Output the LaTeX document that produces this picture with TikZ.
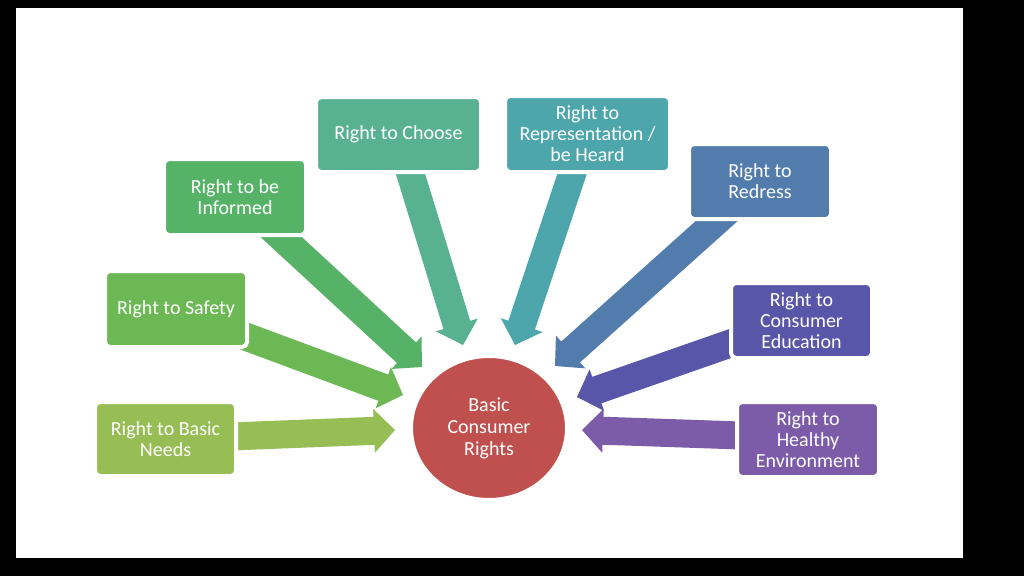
\documentclass[tikz,border=0pt]{standalone}
\usepackage{fontspec}
\setmainfont{Carlito}
\usetikzlibrary{calc,shapes.geometric}
\definecolor{cneeds}{RGB}{150,190,84}
\definecolor{csafety}{RGB}{108,184,84}
\definecolor{cinformed}{RGB}{86,178,103}
\definecolor{cchoose}{RGB}{88,178,146}
\definecolor{crep}{RGB}{76,166,172}
\definecolor{credress}{RGB}{82,124,172}
\definecolor{ceducation}{RGB}{88,86,168}
\definecolor{chealthy}{RGB}{124,92,168}
\definecolor{ccenter}{RGB}{192,80,77}
\tikzset{
  rbox/.style={rectangle, rounded corners=5pt, draw=white, line width=4pt,
    inner sep=0pt, text=white, align=center,
    font=\fontsize{20}{21}\selectfont},
  hub/.style={ellipse, draw=white, line width=4pt, inner sep=0pt,
    text=white, align=center, font=\fontsize{20}{22}\selectfont}
}
\newcommand\blockarrow[3]{%
  \coordinate (#1-b) at ($(#2)!21pt!(#1)$);
  \fill[#3] ($(#1)!14pt!90:(#2)$) -- ($(#1-b)!14pt!90:(#2)$)
    -- ($(#1-b)!22pt!90:(#2)$) -- (#2) -- ($(#1-b)!22pt!-90:(#2)$)
    -- ($(#1-b)!14pt!-90:(#2)$) -- ($(#1)!14pt!-90:(#2)$) -- cycle;
}
\begin{document}
\begin{tikzpicture}[x=1pt,y=-1pt]
\useasboundingbox (0,0) rectangle (1024,576);
\fill[black] (0,0) rectangle (1024,576);
\fill[white] (16,8) rectangle (963,558);

% arrow tails (inside boxes) and tips
\coordinate (t1) at (218,437);   \coordinate (e1) at (395,430);
\coordinate (t2) at (228,330);   \coordinate (e2) at (403,395);
\coordinate (t3) at (266,223);   \coordinate (e3) at (422,367);
\coordinate (t4) at (405,156);   \coordinate (e4) at (463,345);
\coordinate (t5) at (578,156);   \coordinate (e5) at (515,345);
\coordinate (t6) at (729,210);   \coordinate (e6) at (555,366);
\coordinate (t7) at (746,338);   \coordinate (e7) at (577,397);
\coordinate (t8) at (755,436);   \coordinate (e8) at (582,430);

\blockarrow{t1}{e1}{cneeds}
\blockarrow{t2}{e2}{csafety}
\blockarrow{t3}{e3}{cinformed}
\blockarrow{t4}{e4}{cchoose}
\blockarrow{t5}{e5}{crep}
\blockarrow{t6}{e6}{credress}
\blockarrow{t7}{e7}{ceducation}
\blockarrow{t8}{e8}{chealthy}

\node[rbox, fill=cneeds, minimum width=141pt, minimum height=74pt] (needs) at (165.5,439) {Right to Basic\\Needs};
\node[rbox, fill=csafety, minimum width=142pt, minimum height=76pt] (safety) at (176,309) {Right to Safety};
\node[rbox, fill=cinformed, minimum width=142pt, minimum height=76pt] (informed) at (235,197) {Right to be\\Informed};
\node[rbox, fill=cchoose, minimum width=165pt, minimum height=75pt] (choose) at (398.5,134.5) {Right to Choose};
\node[rbox, fill=crep, minimum width=165pt, minimum height=76pt] (rep) at (587.5,134) {Right to\\Representation /\\be Heard};
\node[rbox, fill=credress, minimum width=142pt, minimum height=75pt] (redress) at (760,181.5) {Right to\\Redress};
\node[rbox, fill=ceducation, minimum width=141pt, minimum height=75pt] (education) at (801.5,320.5) {Right to\\Consumer\\Education};
\node[rbox, fill=chealthy, minimum width=142pt, minimum height=75pt] (healthy) at (808,439.5) {Right to\\Healthy\\Environment};

\node[hub, fill=ccenter, minimum width=156pt, minimum height=144pt] (center) at (489,428) {Basic\\Consumer\\Rights};
\end{tikzpicture}
\end{document}
